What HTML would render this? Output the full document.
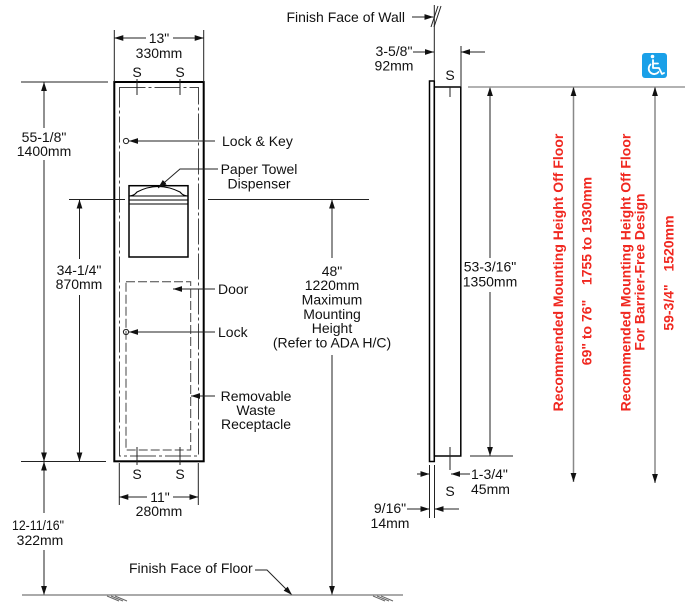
<!DOCTYPE html>
<html><head><meta charset="utf-8">
<style>
html,body{margin:0;padding:0;background:#fff;}
svg{display:block;}
text{font-family:"Liberation Sans",Arial,Helvetica,sans-serif;font-size:14px;fill:#111;}
.r{font-weight:bold;fill:#f02820;}
</style></head><body>
<svg width="700" height="609" viewBox="0 0 700 609" xmlns="http://www.w3.org/2000/svg">
<defs>
<marker id="a" markerUnits="userSpaceOnUse" markerWidth="9" markerHeight="7" refX="9" refY="3.5" orient="auto"><path d="M0,0.6 L9,3.5 L0,6.4z" fill="#111"/></marker>
</defs>

<!-- ===== FRONT VIEW ===== -->
<rect x="114.3" y="82" width="89.4" height="379.3" fill="none" stroke="#000" stroke-width="2"/>
<rect x="119.5" y="87.5" width="79" height="368.5" fill="none" stroke="#444" stroke-width="1" stroke-dasharray="26,3,3,3"/>
<rect x="126" y="281.7" width="64.7" height="168.3" fill="none" stroke="#444" stroke-width="1" stroke-dasharray="9,3"/>

<!-- paper towel dispenser -->
<rect x="129" y="185.7" width="59" height="71.3" fill="none" stroke="#000" stroke-width="1.5"/>
<g stroke="#000" stroke-width="1.1" fill="none">
<line x1="129" y1="196" x2="188" y2="196"/>
<line x1="129" y1="200" x2="188" y2="200"/>
<line x1="129" y1="204" x2="188" y2="204"/>
<path d="M129,196 Q134,196 137,192 Q158,181 180,192 Q183,196 188,196"/>
</g>

<g stroke="#222" stroke-width="1" fill="none">
<!-- S ticks top -->
<line x1="137" y1="79" x2="137" y2="95"/>
<line x1="180" y1="79" x2="180" y2="95"/>
<!-- S ticks bottom -->
<line x1="137" y1="447" x2="137" y2="465"/>
<line x1="180" y1="447" x2="180" y2="465"/>

<!-- 13" dim -->
<line x1="114.3" y1="30" x2="114.3" y2="82"/>
<line x1="203.7" y1="30" x2="203.7" y2="82"/>
<line x1="146" y1="38" x2="114.3" y2="38" marker-end="url(#a)"/>
<line x1="173" y1="38" x2="203.7" y2="38" marker-end="url(#a)"/>

<!-- 11" dim -->
<line x1="119.3" y1="463" x2="119.3" y2="505"/>
<line x1="198.3" y1="463" x2="198.3" y2="505"/>
<line x1="147" y1="497" x2="119.3" y2="497" marker-end="url(#a)"/>
<line x1="173" y1="497" x2="198.3" y2="497" marker-end="url(#a)"/>

<!-- extension lines left -->
<line x1="21" y1="82" x2="108" y2="82"/>
<line x1="69" y1="199.5" x2="125" y2="199.5"/>
<line x1="208" y1="199.5" x2="369" y2="199.5"/>
<line x1="21" y1="461.5" x2="106" y2="461.5"/>

<!-- 55-1/8 -->
<line x1="44" y1="128" x2="44" y2="82" marker-end="url(#a)"/>
<line x1="44" y1="160" x2="44" y2="461.5" marker-end="url(#a)"/>
<!-- 34-1/4 -->
<line x1="79.5" y1="259" x2="79.5" y2="199.5" marker-end="url(#a)"/>
<line x1="79.5" y1="295" x2="79.5" y2="461.5" marker-end="url(#a)"/>
<!-- 12-11/16 -->
<line x1="44" y1="513" x2="44" y2="461.5" marker-end="url(#a)"/>
<line x1="44" y1="550" x2="44" y2="595" marker-end="url(#a)"/>
<!-- 48" -->
<line x1="332" y1="258" x2="332" y2="199.5" marker-end="url(#a)"/>
<line x1="332" y1="355" x2="332" y2="595" marker-end="url(#a)"/>

<!-- callouts -->
<circle cx="126" cy="141" r="2.6"/>
<line x1="215" y1="141" x2="129" y2="141" marker-end="url(#a)"/>
<polyline points="218,169 180,169 158,188" marker-end="url(#a)"/>
<line x1="215" y1="289" x2="173" y2="289" marker-end="url(#a)"/>
<circle cx="126" cy="332" r="2.6"/>
<line x1="215" y1="332" x2="129" y2="332" marker-end="url(#a)"/>
<line x1="215" y1="396" x2="191" y2="396" marker-end="url(#a)"/>
<polyline points="255,570 267,570 292,595" marker-end="url(#a)"/>
</g>

<!-- floor -->
<line x1="22" y1="595" x2="403" y2="595" stroke="#777" stroke-width="1.2"/>
<g stroke="#666" stroke-width="1">
<line x1="107" y1="596" x2="119" y2="601"/>
<line x1="111" y1="596" x2="123" y2="601"/>
<line x1="115" y1="596" x2="127" y2="601"/>
<line x1="373" y1="596" x2="385" y2="601"/>
<line x1="377" y1="596" x2="389" y2="601"/>
<line x1="381" y1="596" x2="393" y2="601"/>
</g>

<!-- front view text -->
<text x="159" y="43" text-anchor="middle">13"</text>
<text x="159" y="58" text-anchor="middle">330mm</text>
<text x="137" y="77" text-anchor="middle">S</text>
<text x="180" y="77" text-anchor="middle">S</text>
<text x="44" y="142" text-anchor="middle">55-1/8"</text>
<text x="44" y="156" text-anchor="middle">1400mm</text>
<text x="222" y="146">Lock &amp; Key</text>
<text x="259" y="174" text-anchor="middle">Paper Towel</text>
<text x="259" y="188.5" text-anchor="middle">Dispenser</text>
<text x="79" y="275" text-anchor="middle">34-1/4"</text>
<text x="79" y="289" text-anchor="middle">870mm</text>
<text x="218" y="294">Door</text>
<text x="218" y="337">Lock</text>
<text x="256" y="401" text-anchor="middle">Removable</text>
<text x="256" y="415" text-anchor="middle">Waste</text>
<text x="256" y="429" text-anchor="middle">Receptacle</text>
<text x="332" y="276" text-anchor="middle">48"</text>
<text x="332" y="290" text-anchor="middle">1220mm</text>
<text x="332" y="304.5" text-anchor="middle">Maximum</text>
<text x="332" y="319" text-anchor="middle">Mounting</text>
<text x="332" y="333" text-anchor="middle">Height</text>
<text x="332" y="347.5" text-anchor="middle">(Refer to ADA H/C)</text>
<text x="137" y="479" text-anchor="middle">S</text>
<text x="180" y="479" text-anchor="middle">S</text>
<text x="160" y="502" text-anchor="middle">11"</text>
<text x="159" y="516" text-anchor="middle">280mm</text>
<text x="12" y="530" textLength="52" lengthAdjust="spacingAndGlyphs">12-11/16"</text>
<text x="40" y="545" text-anchor="middle">322mm</text>
<text x="129" y="573">Finish Face of Floor</text>

<!-- ===== SIDE VIEW ===== -->
<rect x="429.5" y="81" width="4.8" height="380.5" fill="none" stroke="#000" stroke-width="1.5"/>
<rect x="434.3" y="87" width="26.5" height="369" fill="none" stroke="#000" stroke-width="1.5"/>
<g stroke="#222" stroke-width="1" fill="none">
<line x1="434.3" y1="5" x2="434.3" y2="81"/>
<line x1="431" y1="27" x2="438" y2="6"/>
<line x1="434" y1="27" x2="441" y2="6"/>
<line x1="412" y1="17" x2="433.5" y2="17" marker-end="url(#a)"/>
<line x1="413" y1="52" x2="434" y2="52" marker-end="url(#a)"/>
<line x1="461" y1="46" x2="461" y2="87"/>
<line x1="485" y1="52" x2="461" y2="52" marker-end="url(#a)"/>
<line x1="450" y1="87" x2="450" y2="97"/>
<line x1="450" y1="447" x2="450" y2="470"/>
<line x1="490" y1="258" x2="490" y2="87" marker-end="url(#a)"/>
<line x1="490" y1="292" x2="490" y2="456" marker-end="url(#a)"/>
<line x1="470" y1="456" x2="513" y2="456"/>
<line x1="417" y1="474" x2="429.5" y2="474" marker-end="url(#a)"/>
<line x1="470" y1="474" x2="451" y2="474" marker-end="url(#a)"/>
<line x1="429.5" y1="465" x2="429.5" y2="518"/>
<line x1="434.5" y1="465" x2="434.5" y2="518"/>
<line x1="407" y1="509" x2="429.5" y2="509" marker-end="url(#a)"/>
<line x1="459" y1="509" x2="434.5" y2="509" marker-end="url(#a)"/>
</g>
<line x1="468" y1="87" x2="685" y2="87" stroke="#999" stroke-width="1.5"/>

<text x="405" y="22" text-anchor="end">Finish Face of Wall</text>
<text x="394" y="56" text-anchor="middle">3-5/8"</text>
<text x="394" y="70.5" text-anchor="middle">92mm</text>
<text x="450" y="80" text-anchor="middle">S</text>
<text x="490" y="271.5" text-anchor="middle">53-3/16"</text>
<text x="490" y="286.5" text-anchor="middle">1350mm</text>
<text x="471" y="479">1-3/4"</text>
<text x="471" y="494">45mm</text>
<text x="450" y="496" text-anchor="middle">S</text>
<text x="390" y="513" text-anchor="middle">9/16"</text>
<text x="390" y="528" text-anchor="middle">14mm</text>

<!-- ===== RIGHT RED SECTION ===== -->
<g stroke="#888" stroke-width="1.5">
<line x1="573.5" y1="280" x2="573.5" y2="87" marker-end="url(#a)"/>
<line x1="573.5" y1="280" x2="573.5" y2="482" marker-end="url(#a)"/>
<line x1="655" y1="280" x2="655" y2="87" marker-end="url(#a)"/>
<line x1="655" y1="280" x2="655" y2="483" marker-end="url(#a)"/>
</g>
<text class="r" transform="translate(563,272.5) rotate(-90)" text-anchor="middle">Recommended Mounting Height Off Floor</text>
<text class="r" transform="translate(591.5,332.5) rotate(-90)" text-anchor="middle">69" to 76"</text>
<text class="r" transform="translate(591.5,231) rotate(-90)" text-anchor="middle">1755 to 1930mm</text>
<text class="r" transform="translate(630.5,272.5) rotate(-90)" text-anchor="middle">Recommended Mounting Height Off Floor</text>
<text class="r" transform="translate(644.5,272) rotate(-90)" text-anchor="middle">For Barrier-Free Design</text>
<text class="r" transform="translate(673.5,307.5) rotate(-90)" text-anchor="middle">59-3/4"</text>
<text class="r" transform="translate(673.5,243.5) rotate(-90)" text-anchor="middle">1520mm</text>

<!-- wheelchair icon -->
<rect x="642" y="53" width="25" height="25" rx="3" fill="#1aa0e8"/>
<g stroke="#fff" stroke-width="1.8" fill="none" stroke-linecap="round" stroke-linejoin="round">
<path d="M653,60 L653,68 L659,68 L662,74 L664,73"/>
<line x1="653" y1="63.5" x2="658" y2="63.5"/>
<path d="M650.5,64.5 A5.5,5.5 0 1 0 658.5,72"/>
</g>
<circle cx="652.5" cy="56.5" r="1.8" fill="#fff"/>
</svg>
</body></html>
